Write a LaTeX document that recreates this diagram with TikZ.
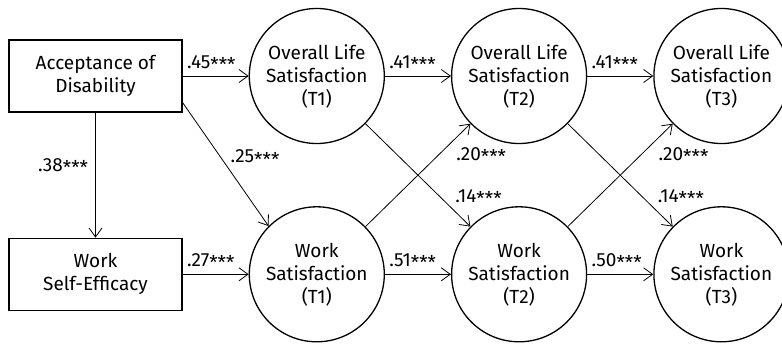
\documentclass[tikz,border=0pt]{standalone}
\usepackage{fontspec}
\setmainfont{Fira Sans}
\usetikzlibrary{arrows.meta,positioning}
% significance stars, set at mid height
\newcommand{\sig}{\raisebox{-0.35ex}{***}}
\tikzset{
    %Define standard arrow tip
    >={Straight Barb[length=9pt,width=13pt]},
    %Define style for latent variables
    latent/.style={
           circle,
           draw=black, line width=1.3pt,
           minimum size=135pt,
           inner sep=0pt,
           align=center,
           font=\fontsize{19}{23}\selectfont},
    %Define style for observed variables
    observed/.style={
           rectangle,
           draw=black, line width=1.3pt,
           minimum width=173pt,
           minimum height=72pt,
           align=center,
           font=\fontsize{19}{23}\selectfont},
    % Define arrow style
    effect/.style={
           ->,
           line width=0.8pt},
    % path coefficients
    coef/.style={
           inner sep=4pt,
           font=\fontsize{19}{23}\selectfont}
}

\begin{document}
\begin{tikzpicture}[x=1pt,y=-1pt,node distance=66pt]
\useasboundingbox (0,0) rectangle (782,343);
 %nodes
\node[observed] (accept) at (95.5,76) {Acceptance of\\Disability};
\node[latent, right=of accept] (life1) {Overall Life\\Satisfaction\\(T1)};
\node[latent, right=of life1] (life2) {Overall Life\\Satisfaction\\(T2)};
\node[latent, right=of life2] (life3) {Overall Life\\Satisfaction\\(T3)};
\node[latent, below=62pt of life1] (work1) {Work\\Satisfaction\\(T1)};
\node[latent, right=of work1] (work2) {Work\\Satisfaction\\(T2)};
\node[latent, right=of work2] (work3) {Work\\Satisfaction\\(T3)};
\node[observed, left=of work1] (selfeff) {Work\\Self-Efficacy};

 %paths
\draw[effect] (accept) -- node[coef, pos=0, anchor=south west] (c1) {.45\sig} (life1);
\draw[effect] (life1) -- node[coef, pos=0, anchor=south west] (c2) {.41\sig} (life2);
\draw[effect] (life2) -- node[coef, pos=0, anchor=south west] (c3) {.41\sig} (life3);
\draw[effect] (selfeff) -- node[coef, pos=0, anchor=south west] (c4) {.27\sig} (work1);
\draw[effect] (work1) -- node[coef, pos=0, anchor=south west] (c5) {.51\sig} (work2);
\draw[effect] (work2) -- node[coef, pos=0, anchor=south west] (c6) {.50\sig} (work3);
\draw[effect] (accept) -- node[coef, pos=0.43, anchor=east, xshift=-3pt] (c7) {.38\sig} (selfeff);
\draw[effect] (accept.-17) -- node[coef, pos=0.45, anchor=west, xshift=5pt] (c8) {.25\sig} (work1.135);
\draw[effect] (work1) -- node[coef, pos=0.69, anchor=west, xshift=14pt] (c9) {.20\sig} (life2);
\draw[effect] (life1) -- node[coef, pos=0.72, anchor=west, xshift=10pt] (c10) {.14\sig} (work2);
\draw[effect] (work2) -- node[coef, pos=0.69, anchor=west, xshift=14pt] (c11) {.20\sig} (life3);
\draw[effect] (life2) -- node[coef, pos=0.72, anchor=west, xshift=10pt] (c12) {.14\sig} (work3);

\end{tikzpicture}
\end{document}
